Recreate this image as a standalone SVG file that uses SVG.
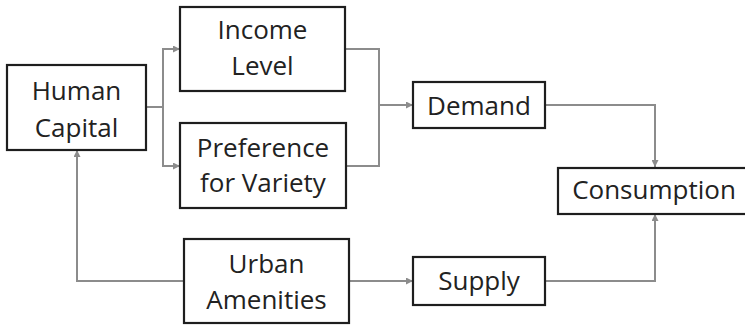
<svg xmlns="http://www.w3.org/2000/svg" width="745" height="326" viewBox="0 0 745 326">
<defs>
<marker id="arr" viewBox="0 0 8 8" refX="8" refY="4" markerWidth="7" markerHeight="7" markerUnits="userSpaceOnUse" orient="auto">
<path d="M0,0 L8,4 L0,8 z" fill="#8c8c8c"/>
</marker>
<style>
.box{fill:#fff;stroke:#1e1e1e;stroke-width:2.2}
.t{font-family:"Open Sans","Liberation Sans",sans-serif;font-size:26px;fill:#222;text-anchor:middle}
.c{fill:none;stroke:#8c8c8c;stroke-width:2}
</style>
</defs>
<rect width="745" height="326" fill="#fff"/>
<g id="connectors">
<path class="c" d="M146,107 H163"/>
<path class="c" d="M163,107 V49 H180" marker-end="url(#arr)"/>
<path class="c" d="M163,107 V166 H180" marker-end="url(#arr)"/>
<path class="c" d="M345,49 H379 V166 H346"/>
<path class="c" d="M379,105 H413" marker-end="url(#arr)"/>
<path class="c" d="M545,105 H655 V167" marker-end="url(#arr)"/>
<path class="c" d="M545,281 H655 V214" marker-end="url(#arr)"/>
<path class="c" d="M349,281 H413" marker-end="url(#arr)"/>
<path class="c" d="M184,281 H77 V150" marker-end="url(#arr)"/>
</g>
<g id="human-capital">
<rect class="box" x="7" y="65" width="139" height="85"/>
<text class="t" x="76.5" y="100">Human</text>
<text class="t" x="76.5" y="137">Capital</text>
</g>
<g id="income-level">
<rect class="box" x="180" y="7" width="165" height="84"/>
<text class="t" x="262.5" y="39">Income</text>
<text class="t" x="262.5" y="75">Level</text>
</g>
<g id="preference-for-variety">
<rect class="box" x="180" y="123" width="166" height="85"/>
<text class="t" x="263" y="157">Preference</text>
<text class="t" x="263" y="192">for Variety</text>
</g>
<g id="urban-amenities">
<rect class="box" x="184" y="239" width="165" height="84"/>
<text class="t" x="266.5" y="273">Urban</text>
<text class="t" x="266.5" y="309">Amenities</text>
</g>
<g id="demand">
<rect class="box" x="413" y="82" width="132" height="46"/>
<text class="t" x="479" y="115">Demand</text>
</g>
<g id="supply">
<rect class="box" x="413" y="257" width="132" height="48"/>
<text class="t" x="479" y="290">Supply</text>
</g>
<g id="consumption">
<rect class="box" x="558" y="168" width="192" height="46"/>
<text class="t" x="654" y="199">Consumption</text>
</g>
</svg>
